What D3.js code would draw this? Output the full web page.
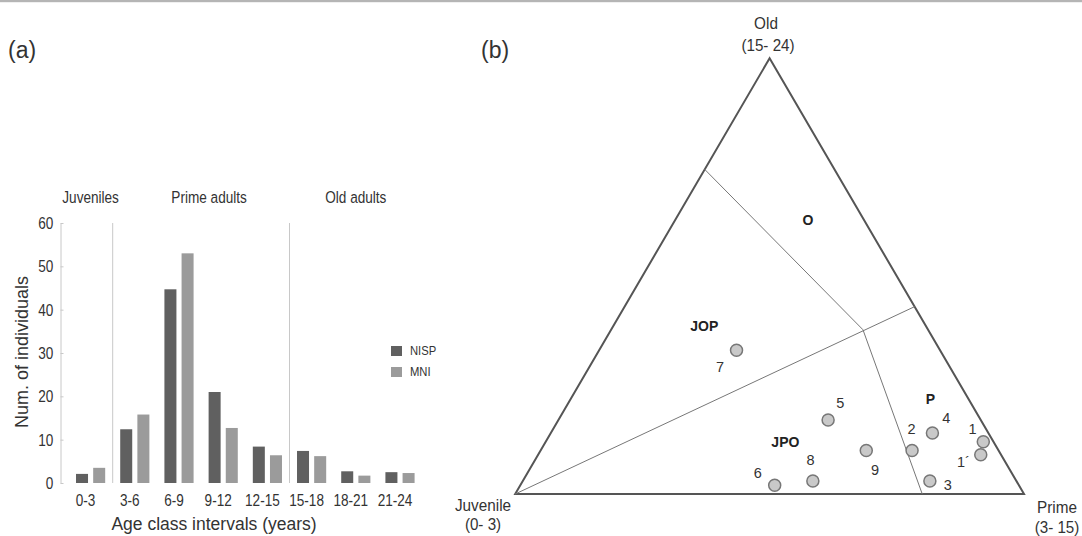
<!DOCTYPE html>
<html><head><meta charset="utf-8">
<script src="https://cdn.jsdelivr.net/npm/d3@7"></script>
<style>
body{margin:0;background:#fff;}
svg{display:block;font-family:"Liberation Sans",Arial,sans-serif;}
</style>
</head><body>
<svg id="chart" width="1082" height="536"></svg>
<script>
// ---------- (a) bar chart data ----------
const ageClasses = ["0-3","3-6","6-9","9-12","12-15","15-18","18-21","21-24"];
const nispValues = [2.1, 12.4, 44.7, 21.0, 8.4, 7.4, 2.7, 2.5];
const mniValues  = [3.5, 15.8, 53.0, 12.7, 6.4, 6.2, 1.7, 2.3];
const seriesNames = ["NISP","MNI"];
const yTickValues = [0,10,20,30,40,50,60];
const ageGroupNames = ["Juveniles","Prime adults","Old adults"];
const ageGroupFirst = ["0-3","3-6","15-18"];
const ageGroupLast  = ["0-3","12-15","21-24"];

// ---------- (b) ternary diagram data ----------
const siteLabels  = ["1","1\u00B4","2","3","4","5","6","7","8","9"];
const juvenilePct = [2, 4, 17, 17, 11, 30, 48, 40, 40, 26];
const primePct    = [86, 87, 73, 80, 75, 53, 50, 27, 57, 64];
const oldPct      = [12, 9, 10, 3, 14, 17, 2, 33, 3, 10];
const vertexNames = ["Juvenile","Prime","Old"];
const vertexRanges = ["(0- 3)","(3- 15)","(15- 24)"];
const regionNames = ["O","JOP","JPO","P"];
const regionJuv   = [11, 43.6, 40.9, 7.5];
const regionPrime = [26.1, 17.9, 47.1, 70.7];
const regionOld   = [62.9, 38.5, 12.0, 21.8];
// zone boundary segments (start / end, J-P-O percentages)
const zoneStartJ = [25.5, 100, 12.8];
const zoneStartP = [0, 0, 49.5];
const zoneStartO = [74.5, 0, 37.7];
const zoneEndJ   = [12.8, 0, 20];
const zoneEndP   = [49.5, 57, 80];
const zoneEndO   = [37.7, 43, 0];

// ---------- layout ----------
const svg = d3.select("#chart");
const TXT = "#333";
const NISP_COL = "#606060", MNI_COL = "#9b9b9b";

svg.append("rect").attr("x",0).attr("y",0).attr("width",1082).attr("height",2.2).attr("fill","#b5b5b5");

function narrowText(g, x, y, str, size, sx, anchor){
  return g.append("text")
    .attr("transform", `translate(${x},${y}) scale(${sx},1)`)
    .attr("text-anchor", anchor || "middle")
    .attr("dy","0.35em")
    .attr("font-size", size)
    .attr("fill", TXT)
    .text(str);
}

// panel labels
svg.append("text").attr("x",8).attr("y",58).attr("font-size",23).attr("fill",TXT).text("(a)");
svg.append("text").attr("x",481).attr("y",58).attr("font-size",23).attr("fill",TXT).text("(b)");

// ---- bar chart ----
const x = d3.scaleBand().domain(ageClasses).range([68.5, 422.1]).paddingInner(0.34).paddingOuter(0.17);
const xs = d3.scaleBand().domain(seriesNames).range([0, x.bandwidth()]).paddingInner(0.3);
const y = d3.scaleLinear().domain([0,60]).range([483,223]);
const color = d3.scaleOrdinal().domain(seriesNames).range([NISP_COL, MNI_COL]);
const step = x.step();

const barData = ageClasses.map((c,i)=>({cls:c, vals:[{s:"NISP",v:nispValues[i]},{s:"MNI",v:mniValues[i]}]}));
const a = svg.append("g");

// y axis
const yAxis = a.append("g").attr("transform","translate(60.5,0)")
  .call(d3.axisLeft(y).tickValues(yTickValues).tickSizeInner(-3).tickSizeOuter(0).tickPadding(9));
yAxis.select(".domain").attr("stroke","#c8c8c8");
yAxis.selectAll(".tick line").attr("stroke","#c8c8c8");
yAxis.selectAll(".tick text").attr("font-size",17).attr("fill",TXT).attr("font-family",null)
  .attr("transform","scale(0.8,1)");

// group separators
const sepClasses = [ageGroupFirst[1], ageGroupFirst[2]];
a.selectAll("line.sep").data(sepClasses).join("line")
  .attr("x1", d=>x(d)-step*0.17).attr("x2", d=>x(d)-step*0.17)
  .attr("y1", y(60)).attr("y2", y(0))
  .attr("stroke","#c8c8c8").attr("stroke-width",1);

// bars
a.selectAll("g.grp").data(barData).join("g")
  .attr("transform", d=>`translate(${x(d.cls)},0)`)
  .selectAll("rect").data(d=>d.vals).join("rect")
  .attr("x", d=>xs(d.s)).attr("width", xs.bandwidth())
  .attr("y", d=>y(d.v)).attr("height", d=>y(0)-y(d.v))
  .attr("fill", d=>color(d.s));

// x axis
const xAxis = a.append("g").attr("transform","translate(0,483)")
  .call(d3.axisBottom(x).tickSize(0).tickPadding(11));
xAxis.select(".domain").remove();
xAxis.selectAll(".tick text").attr("font-size",17).attr("fill",TXT).attr("font-family",null)
  .attr("transform","translate(-5,0) scale(0.8,1)");

// group labels
const groupNudge = [0, 8, 0];
ageGroupNames.forEach((n,i)=>{
  const cx = (x(ageGroupFirst[i]) + x(ageGroupLast[i]) + x.bandwidth())/2 + groupNudge[i];
  narrowText(a, cx, 197, n, 17, 0.8);
});

// axis titles
a.append("text").attr("x",214).attr("y",530).attr("text-anchor","middle")
  .attr("font-size",17.5).attr("fill",TXT).text("Age class intervals (years)");
a.append("text").attr("transform","translate(22,352) rotate(-90)").attr("text-anchor","middle")
  .attr("dy","0.35em").attr("font-size",18).attr("fill",TXT).text("Num. of individuals");

// legend
seriesNames.forEach((s,i)=>{
  a.append("rect").attr("x",391).attr("y",346+i*21).attr("width",11).attr("height",10).attr("fill",color(s));
  narrowText(a, 410, 351+i*21, s, 12.5, 0.9, "start");
});

// ---- ternary diagram ----
const tx = d3.scaleLinear().domain([0,1]).range([515.2, 1024]);
const ty = d3.scaleLinear().domain([0,1]).range([494, 58.3]);
function tern(j,p,o){ const s=j+p+o; const P=p/s, O=o/s; return [tx(P+O/2), ty(O)]; }

const b = svg.append("g");
const corners = [tern(100,0,0), tern(0,100,0), tern(0,0,100)];
b.append("path").attr("d", d3.line()(corners)+"Z")
  .attr("fill","none").attr("stroke","#555").attr("stroke-width",2).attr("stroke-linejoin","miter");

zoneStartJ.forEach((_,i)=>{
  const p0 = tern(zoneStartJ[i], zoneStartP[i], zoneStartO[i]);
  const p1 = tern(zoneEndJ[i], zoneEndP[i], zoneEndO[i]);
  b.append("line").attr("x1",p0[0]).attr("y1",p0[1]).attr("x2",p1[0]).attr("y2",p1[1])
    .attr("stroke","#777").attr("stroke-width",1);
});

// region labels
regionNames.forEach((n,i)=>{
  const p = tern(regionJuv[i], regionPrime[i], regionOld[i]);
  b.append("text").attr("x",p[0]).attr("y",p[1]).attr("dy","0.35em").attr("text-anchor","middle")
    .attr("font-size",14).attr("font-weight","bold").attr("fill","#222").text(n);
});

// points
const pts = siteLabels.map((l,i)=>({l, p:tern(juvenilePct[i], primePct[i], oldPct[i])}));
b.selectAll("circle.pt").data(pts).join("circle")
  .attr("cx", d=>d.p[0]).attr("cy", d=>d.p[1]).attr("r",6)
  .attr("fill","#c9c9c9").attr("stroke","#777").attr("stroke-width",1.5);
const labelDx = [-10.7, -17.3, -0.4, 18, 13.8, 12.3, -17, -16.5, -2.3, 8.8];
const labelDy = [-12.3, 6.7, -21.7, 4.3, -14.7, -16.6, -12, 16.7, -21, 19.7];
b.selectAll("text.pl").data(pts).join("text")
  .attr("x",(d,i)=>d.p[0]+labelDx[i]).attr("y",(d,i)=>d.p[1]+labelDy[i])
  .attr("dy","0.35em").attr("text-anchor","middle").attr("font-size",14.5).attr("fill",TXT)
  .text(d=>d.l);

// vertex labels
const vLabelX = [483, 1057, 766];
const vLabelY = [505, 507, 23];
const vRangeDy = [19, 20, 22];
vertexNames.forEach((n,i)=>{
  narrowText(b, vLabelX[i], vLabelY[i], n, 17, 0.9);
  narrowText(b, vLabelX[i] + (i===2?2:0), vLabelY[i] + vRangeDy[i], vertexRanges[i], 16.5, 0.92);
});
</script>
</body></html>
